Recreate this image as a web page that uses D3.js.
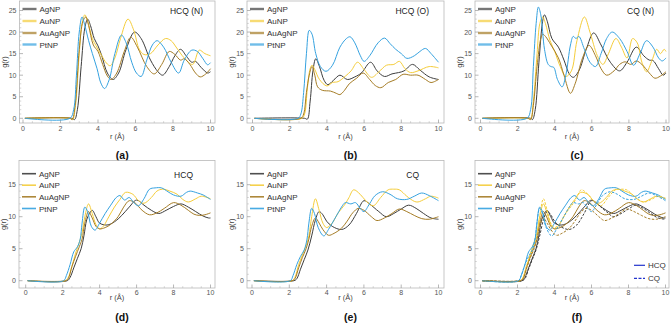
<!DOCTYPE html>
<html>
<head>
<meta charset="utf-8">
<script src="https://cdn.jsdelivr.net/npm/d3@7"></script>
<style>
  body { margin: 0; background: #fff; }
  svg { display: block; font-family: "Liberation Sans", Arial, sans-serif; }
  .tick-label { font-size: 7px; fill: #555; }
  .axis-title { font-size: 7.5px; fill: #444; }
  .legend-text { font-size: 8px; fill: #333; }
  .panel-title { font-size: 8.5px; fill: #222; }
  .panel-label { font-size: 10.5px; font-weight: bold; fill: #111; }
</style>
</head>
<body>
<div id="chart"></div>
<script>
// series names and colours
const series = ['AgNP', 'AuNP', 'AuAgNP', 'PtNP'];
const seriesColors = ['#3d3d3d', '#f5cd3a', '#a57c25', '#35a2e0'];

const xTicks = [0, 2, 4, 6, 8, 10];
const yTicksTop = [0, 5, 10, 15, 20, 25];
const yTicksBottom = [0, 5, 10, 15];

// (a) HCQ (N)
const hcqN_Ag = [[0.1,0],[2.6,0],[2.75,-0.3],[2.9,2],[3.1,12],[3.3,21],[3.45,23],[3.6,21.5],[3.8,18.5],[4.0,16.8],[4.2,14.5],[4.5,10.5],[4.8,9],[5.1,10.5],[5.5,16],[5.95,20],[6.3,18.5],[6.8,13.5],[7.2,10.8],[7.45,10],[7.8,12],[8.1,14.5],[8.4,16],[8.7,14.5],[9.0,13],[9.2,13.2],[9.5,11.8],[9.85,10.5],[10,10.8]];
const hcqN_Au = [[0.1,0],[2.5,0],[2.65,-0.3],[2.8,3],[3.0,15],[3.15,22],[3.3,24],[3.45,22.5],[3.7,18.5],[3.9,16.8],[4.2,14.5],[4.45,12.8],[4.65,12.2],[4.9,14],[5.2,18.5],[5.6,23],[5.9,20.5],[6.2,16],[6.45,14.8],[6.8,15],[7.2,17],[7.6,18.5],[7.9,18],[8.2,16.3],[8.6,14],[9.05,12.5],[9.4,15.8],[9.7,15],[10,14.5]];
const hcqN_AuAg = [[0.1,0],[2.5,0],[2.62,-0.3],[2.78,3],[3.0,16],[3.2,22.5],[3.35,23.5],[3.5,21.5],[3.75,17],[4.0,15.5],[4.25,12.5],[4.5,9.8],[4.7,9],[5.0,10.5],[5.4,15.5],[5.75,18.8],[6.1,16.5],[6.6,12],[7.0,10.3],[7.4,12.5],[7.8,15.5],[8.1,14.8],[8.4,13.5],[8.6,13.8],[8.9,12.5],[9.2,10.5],[9.45,9.6],[9.75,10.3],[10,11.5]];
const hcqN_Pt = [[0.1,0],[2.5,0],[2.7,2],[2.85,10],[3.0,20],[3.15,23.5],[3.3,21.5],[3.5,18],[3.7,15],[3.95,11.5],[4.15,8.2],[4.35,6.9],[4.6,9],[4.9,15],[5.25,19.3],[5.5,17.5],[5.8,13],[6.05,10.5],[6.3,9.7],[6.6,13.5],[6.9,17],[7.15,18],[7.5,16.5],[7.9,13],[8.3,10.5],[8.6,13.5],[9.0,15.8],[9.3,15.5],[9.6,13.8],[9.85,12.4],[10,12.9]];

// (b) HCQ (O)
const hcqO_Ag = [[0.1,0],[2.8,0],[2.95,-0.2],[3.1,4],[3.25,11],[3.4,13.8],[3.6,12],[3.85,8.8],[4.05,7.8],[4.35,8.8],[4.7,10],[5.1,9],[5.5,9.6],[5.85,10.5],[6.35,13],[6.7,11],[7.1,9.7],[7.5,10.3],[7.85,10.6],[8.15,11],[8.6,12.5],[9.0,11.2],[9.5,9.6],[10,9]];
const hcqO_Au = [[0.1,0],[2.65,0],[2.8,1],[2.95,7],[3.1,11.5],[3.2,12.3],[3.35,11.3],[3.6,9],[4.0,7.5],[4.3,8.3],[4.6,8.5],[5.0,9.8],[5.3,11],[5.65,13],[6.0,11.3],[6.4,9.5],[6.8,10.8],[7.2,12.3],[7.6,12.5],[7.9,13.2],[8.2,11.5],[8.5,10.6],[8.9,11],[9.5,12],[10,11.7]];
const hcqO_AuAg = [[0.1,0],[2.6,0],[2.75,1],[2.9,6],[3.05,10],[3.2,12],[3.35,10],[3.5,7.3],[3.75,6.5],[4.2,6.3],[4.5,5.8],[4.7,5.5],[4.95,6.5],[5.2,8],[5.6,9.3],[5.95,10.5],[6.3,9],[6.6,7.6],[6.9,7.1],[7.3,8.3],[7.7,9],[8.1,10.2],[8.5,10],[8.9,10],[9.3,9],[9.6,8.3],[10,9]];
const hcqO_Pt = [[0.1,0],[2.45,0],[2.6,1],[2.75,6],[2.9,15],[3.05,20.4],[3.2,19.5],[3.4,15],[3.65,12],[3.95,10.9],[4.3,12.3],[4.7,16.5],[5.05,18.5],[5.25,18.9],[5.5,17.5],[5.8,14.5],[6.0,13.2],[6.3,14.5],[6.75,17.5],[7.1,18.6],[7.4,17.3],[7.7,16],[8.0,15],[8.3,13.9],[8.7,14.5],[9.0,15.5],[9.3,16.2],[9.6,15],[10,13]];

// (c) CQ (N)
const cqN_Ag = [[0.1,0],[2.7,0],[2.8,-0.3],[2.95,2],[3.15,13],[3.35,22.5],[3.45,24],[3.6,22.5],[3.85,18.5],[4.2,16.5],[4.5,13.5],[4.8,10.2],[5.0,9.5],[5.3,11],[5.7,16],[6.1,19.8],[6.5,17],[7.0,13],[7.5,11],[7.9,13],[8.4,16.5],[8.8,14.5],[9.1,13.5],[9.3,13.4],[9.6,11.5],[9.85,10],[10,10.5]];
const cqN_Au = [[0.1,0],[2.55,0],[2.7,-0.2],[2.85,4],[3.05,15],[3.2,22],[3.35,23.5],[3.5,22],[3.75,18],[4.0,15.5],[4.3,12],[4.6,9.7],[4.9,11],[5.2,18],[5.6,23.5],[5.9,20],[6.3,14.5],[6.6,12.5],[6.9,15],[7.3,18.5],[7.6,16.5],[7.9,14],[8.2,18.5],[8.45,17.5],[8.7,13],[8.95,10.8],[9.25,13.5],[9.5,16],[9.7,15],[9.9,16],[10,15.5]];
const cqN_AuAg = [[0.1,0],[2.55,0],[2.7,-0.3],[2.85,3],[3.05,12],[3.25,18.5],[3.35,19.5],[3.5,19],[3.8,17],[4.2,14],[4.5,10],[4.85,5.8],[5.1,8],[5.5,14],[5.85,16.9],[6.2,14.5],[6.5,11.5],[6.8,10],[7.2,11],[7.5,12.5],[7.8,13.1],[8.1,12.5],[8.4,13.3],[8.7,12.5],[9.1,10.5],[9.4,9.3],[9.7,9.8],[10,10.8]];
const cqN_Pt = [[0.1,0],[2.5,0],[2.7,2],[2.85,12],[3.0,22],[3.12,25.8],[3.25,24],[3.45,16],[3.65,12.5],[3.8,12],[3.95,11.8],[4.15,9],[4.4,7.3],[4.6,10],[4.85,17],[5.0,19],[5.15,18.5],[5.3,19],[5.6,16],[5.9,13],[6.2,12],[6.5,15],[6.8,18.5],[7.1,20],[7.5,18.5],[7.9,15.5],[8.25,12.3],[8.6,15],[8.95,18],[9.3,16.5],[9.6,14],[9.8,13.3],[10,14]];

// (d) HCQ
const hcq_Ag = [[0.1,0],[2.25,0],[2.4,0.5],[2.6,2],[2.8,3.5],[3.0,5],[3.15,7],[3.3,9.5],[3.45,10.5],[3.6,11],[3.8,10],[4.0,9],[4.4,8.7],[4.8,9.2],[5.2,10.2],[5.6,11.5],[6.0,12.6],[6.4,11.8],[6.8,11],[7.2,10.5],[7.6,11],[8.0,11.6],[8.4,12],[8.8,11.5],[9.2,10.8],[9.6,10.1],[9.9,9.8],[10,9.8]];
const hcq_Au = [[0.1,0],[2.15,0],[2.3,0.5],[2.5,2.2],[2.7,4.3],[2.9,6],[3.05,7.5],[3.2,10],[3.4,12],[3.6,10.5],[3.8,8.8],[4.0,8.1],[4.2,8.5],[4.5,10],[4.8,11.5],[5.1,12.7],[5.4,13.8],[5.8,13.5],[6.1,12.5],[6.4,12.1],[6.8,13],[7.1,14],[7.4,14.3],[7.8,14],[8.2,13.5],[8.5,12.7],[8.8,12.3],[9.2,12.8],[9.5,13.2],[10,12.8]];
const hcq_AuAg = [[0.1,0],[2.15,0],[2.3,0.3],[2.5,2.2],[2.7,3.8],[2.9,5.3],[3.05,6.5],[3.2,9],[3.4,10.8],[3.6,9.8],[3.8,8.5],[4.0,8.1],[4.3,8.3],[4.6,8.8],[5.0,10],[5.3,11.5],[5.6,12.5],[5.9,12.2],[6.3,11],[6.7,10.3],[7.1,10.6],[7.5,11.3],[8.0,12.2],[8.4,11.8],[8.8,11],[9.1,10.4],[9.4,10.2],[9.7,10.3],[10,10.6]];
const hcq_Pt = [[0.1,0],[2.05,0],[2.2,0.8],[2.4,2.5],[2.6,4.5],[2.8,5.3],[2.95,6.5],[3.05,9],[3.2,11.5],[3.35,10.8],[3.55,8.5],[3.75,7.9],[4.0,9],[4.3,10.5],[4.6,11.8],[4.9,13],[5.1,13.3],[5.35,12.6],[5.6,13],[5.85,12.2],[6.1,11.7],[6.4,12.8],[6.7,14.3],[7.0,14.5],[7.35,14.5],[7.7,13.9],[8.0,13.4],[8.4,13.2],[8.7,13.8],[8.9,14],[9.3,13.7],[9.6,13.4],[10,12.7]];

// (e) CQ
const cq_Ag = [[0.1,0],[2.25,0],[2.4,0.3],[2.6,1.8],[2.8,3.3],[3.0,4.8],[3.2,7],[3.4,9.5],[3.6,10.8],[3.8,10.3],[4.0,9.3],[4.3,8.5],[4.8,8],[5.2,8.7],[5.6,10.5],[6.0,12.5],[6.3,12],[6.8,10.8],[7.2,10],[7.6,10.5],[8.0,11.2],[8.4,11.8],[8.8,11.3],[9.2,10.5],[9.6,9.8],[10,9.6]];
const cq_Au = [[0.1,0],[2.15,0],[2.3,0.5],[2.5,2.5],[2.7,4],[2.9,5.5],[3.05,7],[3.2,10],[3.4,12.8],[3.6,11],[3.8,9],[4.0,8.3],[4.3,9],[4.6,10.5],[5.0,12],[5.2,13],[5.45,14.2],[5.8,13.5],[6.1,12.5],[6.5,11.7],[6.9,13],[7.3,14.2],[7.6,14.3],[7.9,14.2],[8.3,13.2],[8.7,12.4],[8.9,12.3],[9.3,12.8],[9.6,13.2],[10,12.9]];
const cq_AuAg = [[0.1,0],[2.15,0],[2.3,0.3],[2.5,2],[2.7,3.6],[2.9,5],[3.05,6.5],[3.2,8.5],[3.4,9.8],[3.6,9],[3.8,8],[4.1,7.1],[4.4,7.4],[4.8,8.2],[5.1,9.3],[5.4,10.6],[5.7,11.3],[6.0,11],[6.4,10],[6.7,9.4],[7.1,9.8],[7.5,10.5],[7.9,11.2],[8.3,10.8],[8.7,10.2],[9.1,9.7],[9.5,9.6],[10,10]];
const cq_Pt = [[0.1,0],[2.05,0],[2.2,0.8],[2.4,2.5],[2.6,3.8],[2.8,4.8],[2.95,6.5],[3.05,9],[3.2,11.3],[3.35,10.5],[3.55,8.3],[3.85,7],[4.1,8],[4.5,10],[4.8,11.5],[5.0,12.2],[5.3,12],[5.55,12.2],[5.8,11.3],[6.0,10.8],[6.3,12],[6.6,13.3],[7.0,13.9],[7.4,13.5],[7.8,12.8],[8.3,12.7],[8.7,13.2],[9.1,13.7],[9.5,13.3],[10,12.5]];

const width = 671, height = 328;

const svg = d3.select('#chart').append('svg')
  .attr('width', width)
  .attr('height', height);

// panel layout (frame box + pixel positions of r=0 and r=10)
const panels = [
  { label: '(a)', title: 'HCQ (N)', titleX: 203, left: 19.5, right: 215, x0: 23, x10: 210.5, row: 0,
    sets: [[hcqN_Ag, hcqN_Au, hcqN_AuAg, hcqN_Pt]] },
  { label: '(b)', title: 'HCQ (O)', titleX: 429, left: 247, right: 444, x0: 252.5, x10: 438.5, row: 0,
    sets: [[hcqO_Ag, hcqO_Au, hcqO_AuAg, hcqO_Pt]] },
  { label: '(c)', title: 'CQ (N)', titleX: 654, left: 475, right: 669, x0: 480.5, x10: 666, row: 0,
    sets: [[cqN_Ag, cqN_Au, cqN_AuAg, cqN_Pt]] },
  { label: '(d)', title: 'HCQ', titleX: 193, left: 19, right: 215, x0: 25.7, x10: 210.5, row: 1,
    sets: [[hcq_Ag, hcq_Au, hcq_AuAg, hcq_Pt]] },
  { label: '(e)', title: 'CQ', titleX: 419, left: 247, right: 444, x0: 252, x10: 438.5, row: 1,
    sets: [[cq_Ag, cq_Au, cq_AuAg, cq_Pt]] },
  { label: '(f)', title: '', titleX: 0, left: 475, right: 669, x0: 480.5, x10: 665.5, row: 1,
    sets: [[hcq_Ag, hcq_Au, hcq_AuAg, hcq_Pt], [cq_Ag, cq_Au, cq_AuAg, cq_Pt]], styleLegend: true }
];

const rows = [
  { top: 1, bottom: 123, y0: 118.3, yRef: 25, yRefPx: 10.5, ticks: yTicksTop, legendY: [9, 21, 33, 44.5], legendW: 2.4, legendOp: 0.7,
    tickY: 128, titleY: 13.5, axisY: 139, labelY: 159 },
  { top: 160.5, bottom: 288, y0: 280.7, yRef: 15, yRefPx: 184.7, ticks: yTicksBottom, legendY: [173.7, 185.2, 196.8, 208.5], legendW: 1.6, legendOp: 0.9,
    tickY: 292, titleY: 178, axisY: 299.5, labelY: 321 }
];

panels.forEach(p => {
  const r = rows[p.row];
  const x = d3.scaleLinear().domain([0, 10]).range([p.x0, p.x10]);
  const y = d3.scaleLinear().domain([0, r.yRef]).range([r.y0, r.yRefPx]);

  const g = svg.append('g');

  // frame
  g.append('rect')
    .attr('x', p.left).attr('y', r.top)
    .attr('width', p.right - p.left).attr('height', r.bottom - r.top)
    .attr('fill', 'none').attr('stroke', '#b8b8b8').attr('stroke-width', 0.8);

  // minor + major ticks, bottom and left
  const xMinor = d3.range(0, 10.01, 0.5).filter(v => !xTicks.includes(v));
  g.selectAll('.xminor').data(xMinor).join('line')
    .attr('x1', d => x(d)).attr('x2', d => x(d))
    .attr('y1', r.bottom).attr('y2', r.bottom - 1.8)
    .attr('stroke', '#b8b8b8').attr('stroke-width', 0.6);
  g.selectAll('.xmajor').data(xTicks).join('line')
    .attr('x1', d => x(d)).attr('x2', d => x(d))
    .attr('y1', r.bottom).attr('y2', r.bottom - 3.5)
    .attr('stroke', '#999').attr('stroke-width', 0.7);
  g.selectAll('.xlab').data(xTicks).join('text')
    .attr('class', 'tick-label')
    .attr('x', d => x(d)).attr('y', r.tickY + 2.5)
    .attr('text-anchor', 'middle')
    .text(d => d);

  const yMinor = d3.range(0, r.yRef + 0.01, 1).filter(v => !r.ticks.includes(v));
  g.selectAll('.yminor').data(yMinor).join('line')
    .attr('x1', p.left).attr('x2', p.left + 1.8)
    .attr('y1', d => y(d)).attr('y2', d => y(d))
    .attr('stroke', '#b8b8b8').attr('stroke-width', 0.6);
  g.selectAll('.ymajor').data(r.ticks).join('line')
    .attr('x1', p.left).attr('x2', p.left + 3.5)
    .attr('y1', d => y(d)).attr('y2', d => y(d))
    .attr('stroke', '#999').attr('stroke-width', 0.7);
  g.selectAll('.ylab').data(r.ticks).join('text')
    .attr('class', 'tick-label')
    .attr('x', p.left - 3).attr('y', d => y(d) + 2.5)
    .attr('text-anchor', 'end')
    .text(d => d);

  // axis titles
  g.append('text')
    .attr('class', 'axis-title')
    .attr('x', (p.left + p.right) / 2).attr('y', r.axisY)
    .attr('text-anchor', 'middle')
    .text('r (Å)');
  g.append('text')
    .attr('class', 'axis-title')
    .attr('transform', `translate(${p.left - 13},${(r.top + r.bottom) / 2}) rotate(-90)`)
    .attr('text-anchor', 'middle')
    .text('g(r)');

  // curves
  const line = d3.line()
    .x(d => x(d[0]))
    .y(d => y(d[1]))
    .curve(d3.curveCatmullRom.alpha(0.5));

  p.sets.forEach((set, si) => {
    g.selectAll('.curve' + si).data(set).join('path')
      .attr('d', line)
      .attr('fill', 'none')
      .attr('stroke', (d, i) => seriesColors[i])
      .attr('stroke-width', 1)
      .attr('stroke-dasharray', si === 1 ? '2.5,1.5' : null);
  });

  // legend
  series.forEach((s, i) => {
    g.append('line')
      .attr('x1', p.left + 3).attr('x2', p.left + 17)
      .attr('y1', r.legendY[i]).attr('y2', r.legendY[i])
      .attr('stroke', seriesColors[i])
      .attr('stroke-width', r.legendW)
      .attr('opacity', r.legendOp);
    g.append('text')
      .attr('class', 'legend-text')
      .attr('x', p.left + 20).attr('y', r.legendY[i] + 3)
      .text(s);
  });

  if (p.title) {
    g.append('text')
      .attr('class', 'panel-title')
      .attr('x', p.titleX).attr('y', r.titleY)
      .attr('text-anchor', 'end')
      .text(p.title);
  }

  if (p.styleLegend) {
    const styles = [{ name: 'HCQ', dash: null, yy: 265.3 }, { name: 'CQ', dash: '3,1.5', yy: 278.3 }];
    styles.forEach(st => {
      g.append('line')
        .attr('x1', 634).attr('x2', 645)
        .attr('y1', st.yy).attr('y2', st.yy)
        .attr('stroke', '#2233cc').attr('stroke-width', 1.2)
        .attr('stroke-dasharray', st.dash);
      g.append('text')
        .attr('class', 'legend-text')
        .attr('x', 648).attr('y', st.yy + 3)
        .text(st.name);
    });
  }

  g.append('text')
    .attr('class', 'panel-label')
    .attr('x', (p.left + p.right) / 2 + 5).attr('y', r.labelY)
    .attr('text-anchor', 'middle')
    .text(p.label);
});
</script>
</body>
</html>
